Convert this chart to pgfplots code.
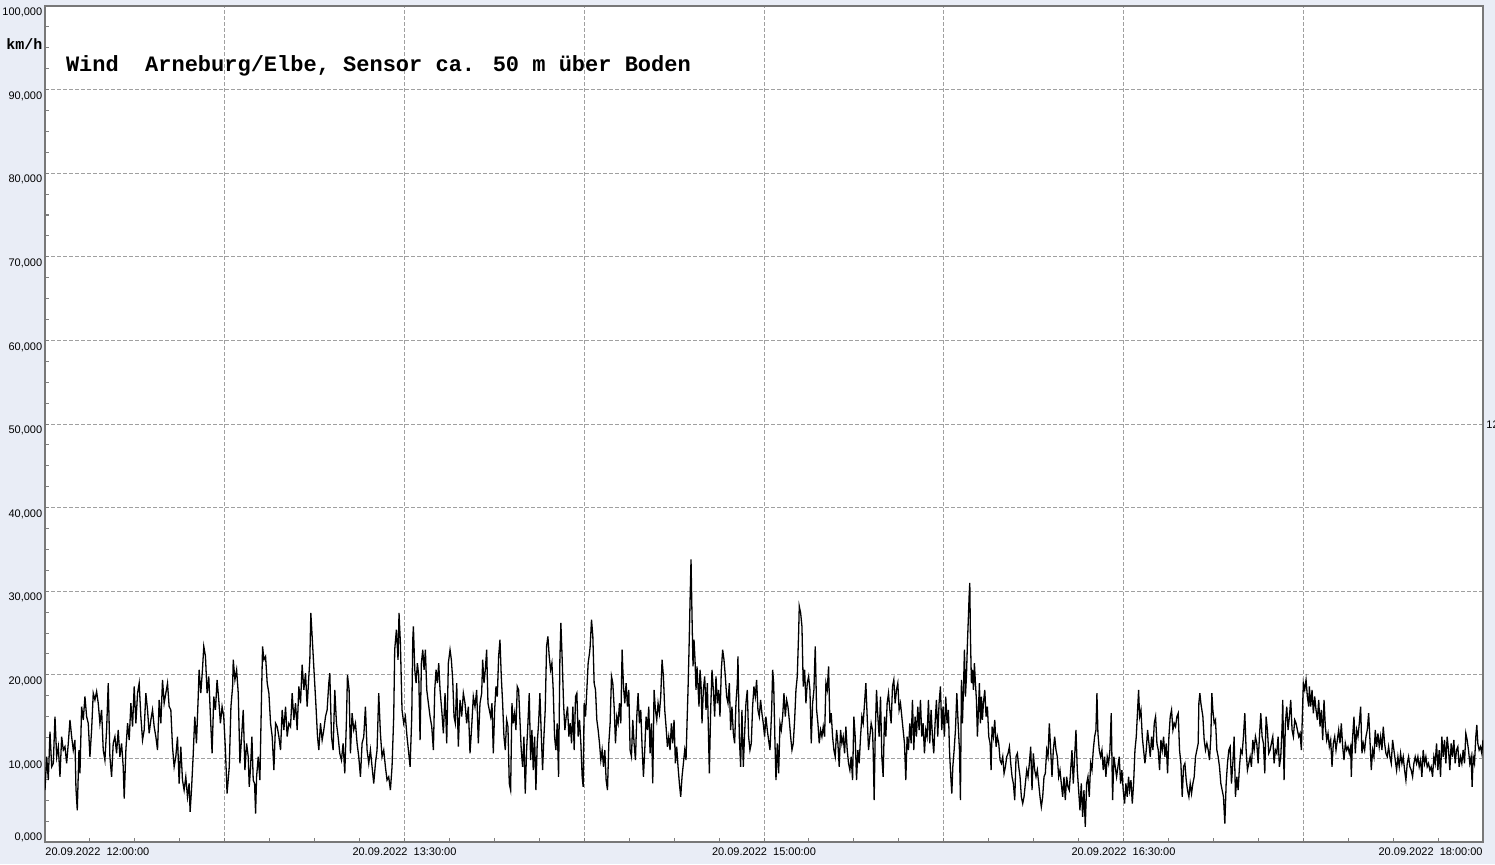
\documentclass[border=0pt]{standalone}
\usepackage{pgfplots}
\pgfplotsset{compat=1.18}
\usepackage{fontspec}
\setmainfont{Liberation Sans}
\newfontfamily\mono{Liberation Mono}
\definecolor{bgc}{RGB}{233,237,246}
\definecolor{gridc}{RGB}{160,160,160}
\definecolor{axc}{RGB}{120,120,120}
\begin{document}
\begin{tikzpicture}
\fill[bgc] (0,0) rectangle (747.5pt,432pt);
\path[use as bounding box] (0,0) rectangle (747.5pt,432pt);
\begin{axis}[
  at={(22.5pt,11pt)}, anchor=south west,
  scale only axis, width=719pt, height=418pt,
  xmin=0, xmax=360, ymin=0, ymax=100,
  axis background/.style={fill=white},
  axis line style={draw=axc, line width=0.6pt},
  xtick={0,45,...,360},
  xticklabels={,,{20.09.2022\ \ 13:30:00},,{20.09.2022\ \ 15:00:00},,{20.09.2022\ \ 16:30:00},,},
  ytick={0,10,...,100},
  yticklabels={,{10,000},{20,000},{30,000},{40,000},{50,000},{60,000},{70,000},{80,000},{90,000},{100,000}},
  minor x tick num=3, minor y tick num=3,
  major tick length=2pt, minor tick length=2pt,
  tick style={draw=gray, line width=0.5pt},
  tick pos=left,
  grid=major,
  major grid style={draw=gridc, dash pattern=on 2pt off 1pt, line width=0.5pt},
  tick label style={font=\fontsize{5.5}{6}\selectfont},
  xticklabel style={anchor=north, inner sep=0pt, yshift=-2.65pt},
  yticklabel style={anchor=north east, inner sep=0pt, xshift=-1.2pt, yshift=-0.8pt},
  clip mode=individual,
]
\addplot[black, line width=0.65pt] coordinates {
(0.00,6.2)(0.42,10.2)(0.83,7.4)(1.25,13.2)(1.67,9.0)(2.08,9.4)(2.50,15.0)(2.92,10.2)(3.33,11.4)(3.75,7.8)
(4.17,12.6)(4.58,11.0)(5.00,11.4)(5.42,9.4)(5.83,11.8)(6.25,14.6)(6.67,12.6)(7.08,11.0)(7.50,12.2)(7.75,6.4)
(8.08,3.8)(8.50,11.0)(8.75,8.2)(9.17,16.2)(9.58,14.6)(10.00,17.4)(10.42,15.0)(10.83,14.2)(11.25,10.2)(11.67,13.4)
(12.08,17.8)(12.50,17.0)(12.92,18.0)(13.33,16.6)(13.75,14.2)(14.17,15.8)(14.58,11.0)(15.00,9.8)(15.42,13.4)(15.83,19.0)
(16.25,10.2)(16.67,7.8)(17.08,11.8)(17.50,12.6)(17.92,10.6)(18.33,13.4)(18.75,10.2)(19.17,11.8)(19.58,9.0)(19.83,5.2)
(20.25,11.0)(20.67,14.2)(21.08,12.2)(21.50,16.6)(21.92,13.8)(22.33,18.6)(22.75,14.2)(23.17,17.8)(23.58,19.0)(24.00,15.0)
(24.42,12.2)(24.83,13.4)(25.25,17.8)(25.67,15.8)(26.08,13.0)(26.50,14.6)(26.92,15.8)(27.33,13.8)(27.75,12.6)(28.17,11.0)
(28.58,17.0)(29.00,14.2)(29.42,19.4)(29.83,16.6)(30.25,17.8)(30.67,19.0)(31.08,16.2)(31.50,15.8)(31.92,11.4)(32.33,9.0)
(32.75,10.2)(33.17,12.6)(33.58,7.0)(34.00,11.4)(34.42,7.4)(34.83,6.2)(35.25,7.8)(35.67,5.4)(36.08,7.0)(36.33,3.6)
(36.67,6.2)(37.08,10.2)(37.50,15.0)(37.92,11.8)(38.33,17.0)(38.58,20.6)(39.00,17.8)(39.42,20.6)(39.75,23.4)(40.17,22.2)
(40.58,17.8)(41.00,19.8)(41.42,15.0)(41.83,10.6)(42.25,17.4)(42.67,15.8)(43.08,19.4)(43.50,17.0)(43.92,14.2)(44.33,16.2)
(44.75,15.0)(45.17,11.0)(45.58,5.8)
(46.13,9.0)(46.55,16.2)(46.97,18.6)(47.13,21.8)(47.55,19.4)(47.97,20.6)(48.38,17.8)(48.80,9.4)(49.22,12.6)(49.63,15.8)
(50.05,8.6)(50.47,11.8)(50.88,10.2)(51.13,6.6)(51.47,9.0)(51.80,12.6)(52.13,7.4)(52.47,7.0)(52.72,3.4)(52.97,7.8)
(53.38,10.2)(53.80,7.4)(54.22,17.8)(54.47,23.4)(54.80,21.8)(55.22,22.2)(55.63,19.0)(56.05,17.8)(56.47,14.2)(56.88,12.6)
(57.30,8.6)(57.72,14.2)(58.13,13.8)(58.55,12.6)(58.97,11.0)(59.38,15.8)(59.80,13.4)(60.22,16.2)(60.63,12.6)(61.05,14.2)
(61.47,13.8)(61.88,17.8)(62.30,14.6)(62.72,16.6)(63.13,13.4)(63.55,18.6)(63.97,16.6)(64.38,21.2)(64.80,18.2)(65.22,20.2)
(65.63,16.2)(66.05,19.8)(66.30,21.8)(66.55,27.4)(66.97,23.8)(67.38,20.2)(67.80,16.6)(68.22,12.6)(68.55,11.0)(68.97,14.2)
(69.38,12.2)(69.80,13.4)(70.22,15.0)(70.63,15.8)(71.05,19.0)(71.30,20.2)(71.72,12.6)(72.13,11.0)(72.55,18.2)(72.97,14.2)
(73.38,12.6)(73.80,10.6)(74.22,9.8)(74.63,11.8)(75.05,8.2)(75.47,14.6)(75.72,20.0)(76.13,18.2)(76.47,10.6)(76.88,15.4)
(77.30,13.4)(77.72,14.2)(78.13,11.8)(78.55,10.2)(78.97,7.8)(79.38,11.8)(79.80,12.6)(80.22,16.2)(80.63,11.0)(81.05,9.4)
(81.47,11.0)(81.88,9.0)(82.30,7.0)(82.72,9.4)(83.13,11.0)(83.55,17.8)(83.97,13.0)(84.38,10.2)(84.80,11.0)(85.22,9.0)
(85.63,7.4)(86.05,7.8)(86.47,6.2)(86.88,9.0)(87.30,15.0)(87.55,23.0)(87.97,25.4)(88.38,21.8)(88.63,27.4)(88.97,23.8)
(89.38,15.8)(89.80,14.2)(90.22,15.0)(90.63,12.6)
(91.15,10.2)(91.40,9.0)(91.82,15.0)(92.07,24.2)(92.23,25.8)(92.57,20.6)(92.90,19.0)(93.23,21.4)(93.57,19.8)(93.90,12.2)
(94.23,21.4)(94.57,23.0)(94.90,20.6)(95.23,23.0)(95.57,18.2)(95.98,16.6)(96.40,15.0)(96.82,13.8)(97.23,11.0)(97.57,18.2)
(97.90,20.6)(98.23,19.0)(98.57,21.4)(98.90,18.2)(99.32,15.8)(99.73,13.0)(100.15,17.8)(100.57,11.8)(100.98,21.4)(101.40,23.0)
(101.73,21.8)(102.07,19.4)(102.40,15.0)(102.73,14.2)(103.07,19.0)(103.48,11.4)(103.90,17.0)(104.32,15.0)(104.73,17.8)(105.15,16.6)
(105.57,14.2)(105.98,16.2)(106.40,10.6)(106.82,13.8)(107.23,17.4)(107.65,16.2)(108.07,18.2)(108.48,11.8)(108.90,16.6)(109.32,17.8)
(109.57,21.8)(109.90,19.0)(110.23,20.6)(110.57,23.0)(110.90,16.6)(111.23,15.8)(111.57,15.0)(111.90,16.6)(112.23,10.6)(112.57,15.8)
(112.90,18.6)(113.23,17.4)(113.57,22.2)(113.90,24.2)(114.23,19.8)(114.57,16.6)(114.90,12.6)(115.23,11.0)(115.57,14.6)(115.90,13.8)
(116.23,7.0)(116.57,6.2)(116.90,16.6)(117.23,14.2)(117.57,15.4)(117.90,13.4)(118.23,18.6)(118.57,18.2)(118.90,14.6)(119.23,11.0)
(119.57,9.0)(119.90,12.6)(120.23,5.8)(120.57,11.0)(120.90,14.2)(121.23,17.8)(121.57,9.8)(121.90,13.4)(122.23,8.6)(122.57,12.6)
(122.90,6.2)(123.23,11.8)(123.57,14.2)(123.90,17.8)(124.23,13.0)(124.57,8.6)(124.90,12.6)(125.23,15.8)(125.57,23.4)(125.90,24.6)
(126.23,22.2)(126.57,20.6)(126.90,21.4)(127.23,18.2)(127.57,12.6)(127.90,11.0)(128.23,14.2)(128.57,7.8)(128.90,21.8)(129.15,26.2)
(129.48,21.8)(129.82,16.6)(130.15,13.4)(130.48,15.0)(130.82,16.2)(131.15,12.6)(131.48,14.2)(131.82,11.8)(132.15,16.2)(132.48,11.0)
(132.82,17.4)(133.15,17.8)(133.48,12.6)(133.82,14.6)(134.15,11.8)(134.48,7.8)(134.73,6.6)(134.98,16.6)(135.32,15.0)(135.65,18.2)
(135.98,21.4)(136.32,22.6)
(136.48,23.4)(136.82,26.6)(137.15,24.6)(137.48,19.0)(137.82,18.2)(138.15,14.6)(138.48,13.4)(138.82,11.8)(139.15,9.8)(139.48,11.0)
(139.82,9.0)(140.15,11.0)(140.48,7.4)(140.82,6.2)(141.15,11.8)(141.48,14.2)(141.82,19.8)(142.15,19.0)(142.48,16.2)(142.82,11.8)
(143.15,15.0)(143.48,14.2)(143.82,16.6)(144.15,14.2)(144.48,23.0)(144.82,18.6)(145.15,16.6)(145.48,19.0)(145.82,16.2)(146.15,18.2)
(146.48,11.0)(146.82,10.2)(147.15,14.6)(147.48,11.8)(147.82,9.8)(148.15,15.0)(148.48,17.8)(148.82,14.2)(149.15,15.8)(149.48,11.4)
(149.82,7.8)(150.15,11.0)(150.48,15.0)(150.82,13.4)(151.15,16.2)(151.48,10.6)(151.82,14.2)(152.15,7.0)(152.48,18.2)(152.82,15.8)
(153.15,14.6)(153.48,16.6)(153.82,15.4)(154.15,17.4)(154.48,21.8)(154.82,19.8)(155.15,15.8)(155.48,13.8)(155.82,11.4)(156.15,12.6)
(156.48,11.0)(156.82,14.2)(157.15,11.8)(157.48,14.6)(157.82,9.4)(158.15,11.4)(158.48,9.0)(158.82,7.0)(159.15,5.4)(159.48,7.8)
(159.82,9.4)(160.15,11.0)(160.48,9.8)(160.73,14.2)(160.98,18.2)(161.23,23.0)(161.48,28.6)(161.73,33.8)(161.98,27.0)(162.23,21.0)
(162.48,24.2)(162.73,21.8)(162.98,18.2)(163.23,21.0)(163.48,18.6)(163.73,16.2)(163.98,20.6)(164.23,19.0)(164.48,14.2)(164.82,18.2)
(165.15,19.8)(165.48,15.8)(165.82,19.0)(166.15,11.8)(166.32,8.2)(166.65,15.8)(166.98,20.6)(167.32,18.2)(167.65,15.0)(167.98,19.8)
(168.32,16.6)(168.65,18.2)(168.98,15.0)(169.32,20.6)(169.65,23.0)(169.98,21.8)(170.32,19.8)(170.65,17.4)(170.98,16.6)(171.32,19.0)
(171.65,13.4)(171.98,16.2)(172.32,13.0)(172.65,11.8)(172.98,16.6)(173.32,19.0)(173.48,22.2)(173.82,12.6)(174.15,9.0)(174.48,15.8)
(174.82,9.0)(175.15,13.0)(175.48,16.6)(175.82,18.2)(176.15,12.6)(176.48,11.0)(176.82,11.8)(177.15,16.2)(177.48,18.6)(177.82,17.4)
(178.15,19.4)(178.48,15.8)(178.82,15.0)(179.15,17.0)(179.48,15.4)(179.82,14.2)(180.15,12.6)(180.48,15.0)(180.82,13.4)(181.15,12.2)
(181.50,11.0)(181.92,15.8)(182.17,20.6)(182.42,19.0)(182.75,11.8)(183.00,7.4)(183.33,11.8)(183.67,8.2)(184.00,14.2)(184.33,13.4)
(184.67,15.0)(185.00,17.8)(185.33,15.0)(185.67,17.0)(186.00,16.2)(186.33,14.6)(186.67,12.6)(187.00,11.0)(187.33,11.8)(187.67,14.6)
(188.00,18.2)(188.33,19.8)(188.67,25.0)(188.83,28.2)(189.17,27.4)(189.50,25.8)(189.83,18.6)(190.17,20.6)(190.50,16.6)(190.83,19.0)
(191.17,19.8)(191.50,18.2)(191.83,11.8)(192.17,16.6)(192.50,18.2)(192.83,23.4)(193.17,15.8)(193.50,14.2)(193.83,11.8)(194.17,13.4)
(194.50,12.6)(194.83,13.8)(195.17,12.6)(195.50,19.0)(195.83,18.2)(196.17,21.0)(196.50,14.2)(196.83,15.4)(197.17,12.6)(197.50,11.0)
(197.83,10.2)(198.17,13.4)(198.50,11.8)(198.83,9.0)(199.17,13.4)(199.50,11.8)(199.83,12.6)(200.17,10.6)(200.50,13.8)(200.83,11.0)
(201.17,9.4)(201.50,8.6)(201.83,10.2)(202.17,7.4)(202.50,15.0)(202.83,12.6)(203.17,7.4)(203.50,11.0)(203.83,9.4)(204.17,12.6)
(204.50,15.0)(204.83,14.2)(205.17,16.6)(205.50,19.0)(205.83,15.0)(206.17,11.0)(206.50,12.6)(206.83,14.2)(207.17,13.4)(207.33,11.0)
(207.58,5.0)(207.83,12.6)(208.17,18.2)(208.50,15.0)(208.83,12.6)(209.17,17.4)(209.50,10.2)(209.83,7.8)(210.17,15.0)(210.50,12.6)
(210.83,16.6)(211.17,17.8)(211.50,15.8)(211.83,14.2)(212.17,18.6)(212.50,19.4)(212.83,16.6)(213.17,18.2)(213.50,19.0)(213.83,15.8)
(214.17,16.6)(214.50,15.0)(214.83,13.4)(215.17,11.8)(215.50,7.4)(215.83,12.6)(216.17,11.0)(216.50,14.2)(216.83,11.8)(217.17,17.0)
(217.50,11.0)(217.83,15.0)(218.17,12.6)(218.50,16.2)(218.83,13.4)(219.17,17.0)(219.50,12.6)(219.83,14.2)(220.17,10.6)(220.50,13.4)
(220.83,12.6)(221.17,17.0)(221.50,11.8)(221.83,15.8)(222.17,12.6)(222.50,10.6)(222.83,14.2)(223.17,17.0)(223.50,12.6)(223.83,16.6)
(224.17,18.6)(224.50,13.4)(224.83,16.2)(225.17,12.6)(225.50,17.4)(225.83,14.2)(226.17,15.8)
(226.43,11.0)(226.77,7.8)(227.02,5.8)(227.27,9.0)(227.60,11.0)(227.93,13.4)(228.27,17.8)(228.60,14.2)(228.93,11.0)(229.18,5.0)
(229.43,19.4)(229.68,14.2)(229.93,18.2)(230.18,23.0)(230.43,17.4)(230.68,19.8)(230.93,23.8)(231.18,27.0)(231.35,29.4)(231.52,31.0)
(231.68,24.6)(231.93,19.0)(232.18,20.6)(232.43,18.2)(232.68,21.4)(232.93,19.0)(233.18,17.0)(233.43,12.6)(233.68,15.8)(233.93,19.0)
(234.18,14.2)(234.43,17.4)(234.68,14.6)(234.93,16.6)(235.27,18.2)(235.60,15.0)(235.93,16.2)(236.27,12.6)(236.60,11.8)(236.85,8.6)
(237.10,13.8)(237.43,12.6)(237.77,14.6)(238.10,11.4)(238.43,12.6)(238.77,11.8)(239.10,9.8)(239.43,9.4)(239.77,10.2)(240.10,8.2)
(240.43,9.0)(240.77,10.2)(241.10,10.6)(241.43,11.4)(241.77,9.4)(242.10,7.8)(242.43,7.0)(242.77,5.0)(243.10,10.2)(243.43,10.6)
(243.77,9.0)(244.10,7.8)(244.43,5.4)(244.77,4.6)(245.10,5.4)(245.43,7.0)(245.77,8.6)(246.10,7.8)(246.43,9.4)(246.77,11.4)
(247.10,6.2)(247.43,10.6)(247.77,8.6)(248.10,7.8)(248.43,8.6)(248.77,7.0)(249.10,5.4)(249.43,4.2)(249.77,5.4)(250.10,7.8)
(250.43,8.2)(250.77,11.0)(251.10,10.2)(251.43,14.2)(251.77,11.0)(252.10,7.8)(252.43,11.0)(252.77,12.6)(253.10,11.0)(253.43,10.2)
(253.77,7.8)(254.10,8.6)(254.43,7.0)(254.77,5.4)(255.10,7.8)(255.43,5.0)(255.77,7.8)(256.10,6.6)(256.43,6.2)(256.77,8.6)
(257.10,11.0)(257.43,7.0)(257.77,10.2)(258.10,13.4)(258.43,8.6)(258.77,6.2)(259.10,3.8)(259.43,7.0)(259.77,3.0)(260.10,6.2)
(260.43,1.8)(260.77,7.0)(261.10,7.8)(261.43,5.4)(261.77,9.4)(262.10,8.6)(262.43,11.0)(262.77,12.6)(263.10,13.4)(263.35,17.8)
(263.60,13.0)(263.93,11.0)(264.27,10.2)(264.60,11.0)(264.93,8.6)(265.27,10.2)(265.60,7.8)(265.93,10.2)(266.27,9.4)(266.60,11.0)
(266.93,15.4)(267.27,5.0)(267.60,10.2)(267.93,9.0)(268.27,7.8)(268.60,9.0)(268.93,10.2)(269.27,7.0)(269.60,8.6)(269.93,6.2)
(270.27,4.6)(270.60,7.0)(270.93,5.4)(271.27,7.8)
(271.53,6.2)(271.87,7.4)(272.20,4.6)(272.53,7.0)(272.87,11.0)(273.20,12.6)(273.53,15.8)(273.78,18.2)(274.03,15.0)(274.37,15.8)
(274.70,12.6)(275.03,11.0)(275.37,9.4)(275.70,11.0)(276.03,13.4)(276.37,11.8)(276.70,10.2)(277.03,12.6)(277.37,11.0)(277.70,14.2)
(278.03,15.0)(278.37,11.8)(278.70,11.0)(279.03,8.6)(279.37,12.2)(279.70,11.0)(280.03,12.6)(280.37,10.2)(280.70,11.8)(281.03,8.2)
(281.37,12.6)(281.70,15.0)(282.03,15.8)(282.37,13.4)(282.70,14.2)(283.03,13.8)(283.37,15.0)(283.70,15.4)(284.03,11.0)(284.37,9.4)
(284.70,5.4)(285.03,9.0)(285.37,9.4)(285.70,7.4)(286.03,6.2)(286.37,5.4)(286.70,7.0)(287.03,5.8)(287.37,7.0)(287.70,7.8)
(288.03,10.2)(288.37,11.0)(288.70,11.8)(288.87,16.6)(289.12,17.8)(289.37,16.6)(289.62,15.8)(289.87,15.0)(290.20,12.2)(290.53,11.0)
(290.87,11.8)(291.20,11.0)(291.53,9.8)(291.87,12.6)(292.12,17.8)(292.37,15.8)(292.70,14.2)(293.03,14.6)(293.37,11.0)(293.70,10.2)
(294.03,9.0)(294.37,7.0)(294.70,6.2)(295.03,5.4)(295.37,2.2)(295.70,7.0)(296.03,9.4)(296.37,11.0)(296.70,11.4)(297.03,7.0)
(297.37,9.4)(297.70,12.6)(298.03,5.4)(298.37,7.8)(298.70,6.2)(299.03,9.0)(299.37,11.0)(299.70,10.6)(300.03,12.6)(300.37,15.4)
(300.70,11.0)(301.03,8.6)(301.37,9.4)(301.70,10.2)(302.03,9.0)(302.37,12.2)(302.70,11.0)(303.03,12.6)(303.37,11.8)(303.70,9.4)
(304.03,12.6)(304.37,15.4)(304.70,12.6)(305.03,11.8)(305.37,8.2)(305.70,15.0)(306.03,13.4)(306.37,10.6)(306.70,11.0)(307.03,11.8)
(307.37,12.6)(307.70,9.4)(308.03,11.0)(308.37,10.6)(308.70,12.6)(309.03,9.0)(309.37,10.2)(309.70,13.8)(309.87,17.0)(310.20,7.4)
(310.53,14.2)(310.87,16.2)(311.20,13.4)(311.53,15.0)(311.87,17.0)(312.20,13.4)(312.53,12.6)(312.87,14.6)(313.20,14.2)(313.53,13.4)
(313.87,12.6)(314.20,13.0)(314.53,11.0)(314.87,16.6)(315.03,19.0)(315.37,18.2)(315.70,19.4)(316.03,17.4)(316.37,16.2)
(316.53,18.6)(316.87,16.2)(317.20,18.2)(317.53,15.4)(317.87,17.4)(318.20,15.8)(318.53,14.6)(318.87,17.0)(319.20,13.8)(319.53,15.8)
(319.87,12.2)(320.20,17.0)(320.53,13.8)(320.87,12.2)(321.20,13.0)(321.53,11.4)(321.87,12.2)(322.20,9.0)(322.53,11.8)(322.87,12.6)
(323.20,11.0)(323.53,12.2)(323.87,13.4)(324.20,11.8)(324.53,14.2)(324.87,11.4)(325.20,9.8)(325.53,11.8)(325.87,11.0)(326.20,11.4)
(326.53,10.6)(326.87,11.4)(327.03,7.8)(327.37,12.6)(327.70,15.0)(328.03,10.6)(328.37,13.4)(328.70,12.6)(329.03,14.2)(329.37,16.2)
(329.70,10.6)(330.03,11.8)(330.37,11.0)(330.70,12.6)(331.03,13.4)(331.37,15.4)(331.70,12.2)(332.03,8.6)(332.37,11.0)(332.70,10.2)
(333.03,13.4)(333.37,11.4)(333.70,13.0)(334.03,11.4)(334.37,12.6)(334.70,11.0)(335.03,13.8)(335.37,11.8)(335.70,10.6)(336.03,10.2)
(336.37,11.4)(336.70,10.2)(337.03,9.4)(337.37,12.2)(337.70,11.0)(338.03,9.8)(338.37,8.6)(338.70,10.2)(339.03,9.0)(339.37,10.6)
(339.70,9.4)(340.03,10.2)(340.37,8.6)(340.70,7.4)(341.03,9.4)(341.37,10.2)(341.70,9.0)(342.03,8.6)(342.37,7.8)(342.70,9.4)
(343.03,10.2)(343.37,9.4)(343.70,10.2)(344.03,9.0)(344.37,9.8)(344.70,7.8)(345.03,11.0)(345.37,9.4)(345.70,10.2)(346.03,9.0)
(346.37,9.4)(346.70,8.6)(347.03,9.0)(347.37,7.8)(347.70,10.2)(348.03,9.4)(348.37,11.8)(348.70,8.6)(349.03,11.0)(349.37,7.8)
(349.70,12.6)(350.03,10.2)(350.37,12.2)(350.70,9.4)(351.03,12.6)(351.37,11.0)(351.70,8.6)(352.03,11.8)(352.37,10.2)(352.70,12.2)
(353.03,9.4)(353.37,11.0)(353.70,11.4)(354.03,9.0)(354.37,10.2)(354.70,9.4)(355.03,11.0)(355.37,9.4)(355.70,13.0)(356.03,12.2)
(356.37,11.0)(356.70,9.4)(357.03,10.2)(357.28,6.6)(357.53,10.2)(357.87,9.4)(358.20,12.6)(358.45,14.0)(358.70,11.8)(359.03,11.0)
(359.37,11.4)(359.70,10.6)(360.00,12.2)
};
\node[anchor=base east, inner sep=0pt, xshift=-1.2pt, yshift=1pt, font=\fontsize{5.5}{6}\selectfont] at (rel axis cs:0,0) {0,000};
\node[anchor=north west, inner sep=0pt, yshift=-2.65pt, font=\fontsize{5.5}{6}\selectfont] at (rel axis cs:0,0) {20.09.2022\ \ 12:00:00};
\node[anchor=north east, inner sep=0pt, yshift=-2.65pt, font=\fontsize{5.5}{6}\selectfont] at (rel axis cs:1,0) {20.09.2022\ \ 18:00:00};
\end{axis}
\node[anchor=base west, inner sep=0pt, font=\mono\bfseries\fontsize{11}{13}\selectfont] at (32.8pt,396.25pt) {Wind\ \ Arneburg/Elbe, Sensor ca. 50 m über Boden};
\node[anchor=base west, inner sep=0pt, font=\mono\bfseries\fontsize{7.5}{9}\selectfont] at (3pt,407.25pt) {km/h};
\node[anchor=west, inner sep=0pt, font=\fontsize{5.5}{6}\selectfont] at (743pt,219.5pt) {12};
\end{tikzpicture}
\end{document}
